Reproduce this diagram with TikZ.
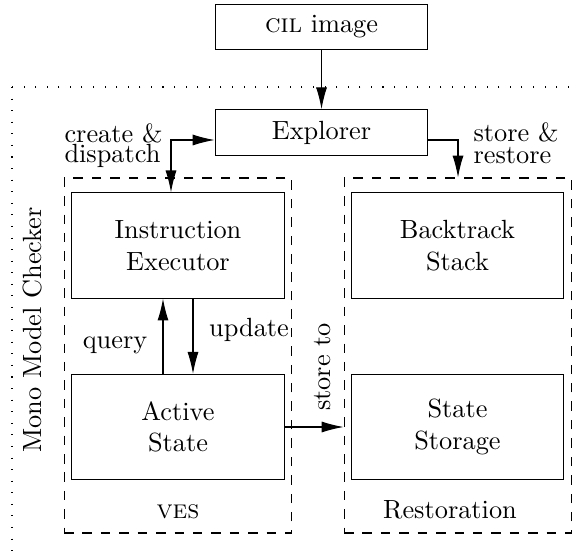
\documentclass[tikz,border=0pt]{standalone}
\usetikzlibrary{arrows.meta,calc}
\begin{document}
\begin{tikzpicture}[x=0.38pt,y=-0.38pt,
  box/.style={draw, inner sep=0pt, align=center, minimum width=80.6pt, minimum height=40pt},
  topbox/.style={draw, inner sep=0pt, align=center, minimum width=80.9pt, minimum height=17.3pt},
  group/.style={draw, dash pattern=on 3.6pt off 3.4pt, inner sep=0pt, minimum width=86.6pt, minimum height=134.9pt},
  lbl/.style={inner sep=0pt, align=left},
  arr/.style={-{Latex[length=8.3pt,width=4.2pt]}},
  darr/.style={{Latex[length=8.3pt,width=4.2pt]}-{Latex[length=8.3pt,width=4.2pt]}}]
\useasboundingbox (0,0) rectangle (577,555);
\clip (0,0) rectangle (577,555);
% outer dotted frame
\draw[dash pattern=on 0.4pt off 4pt] (12,87) rectangle (620,620);
% groups
\node[group] (ves) at (178,355.5) {};
\node[group] (rest) at (458,355.5) {};
% boxes
\node[topbox] (cil) at (321.5,27) {\textsc{cil} image};
\node[topbox] (expl) at (321.5,132.5) {Explorer};
\node[box] (ie) at (178,245.5) {Instruction\\Executor};
\node[box] (as) at (178,427) {Active\\State};
\node[box] (bs) at (457.5,245.5) {Backtrack\\Stack};
\node[box] (ss) at (457.5,427) {State\\Storage};
% labels
\node[lbl, anchor=west] (lcd) at (64,146) {create \&\\[-4.3pt]dispatch};
\node[lbl, anchor=west] (lsr) at (473,143) {store \&\\[-3.8pt]restore};
\node[lbl] (lq) at (115,345) {query};
\node[lbl] (lu) at (249,330) {update};
\node[lbl, rotate=90] (lst) at (323,367) {store to};
\node[lbl, rotate=90] (lmmc) at (33,330) {Mono Model Checker};
\node[lbl] (lves) at (178,512) {\textsc{ves}};
\node[lbl] (lrest) at (450,510) {Restoration};
% connectors
\draw[arr] (cil.south) -- (expl.north);
\draw[darr] ($(expl.west)+(0,7.5)$) -| ($(ie.north)+(-7,0)$);
\draw[arr] ($(expl.east)+(0,7.5)$) -| (rest.north);
\draw[arr] ($(as.north)+(-15,0)$) -- ($(ie.south)+(-15,0)$);
\draw[arr] ($(ie.south)+(15,0)$) -- ($(as.north)+(15,0)$);
\draw[arr] (as.east) -- (as.east -| rest.west);
\end{tikzpicture}
\end{document}
